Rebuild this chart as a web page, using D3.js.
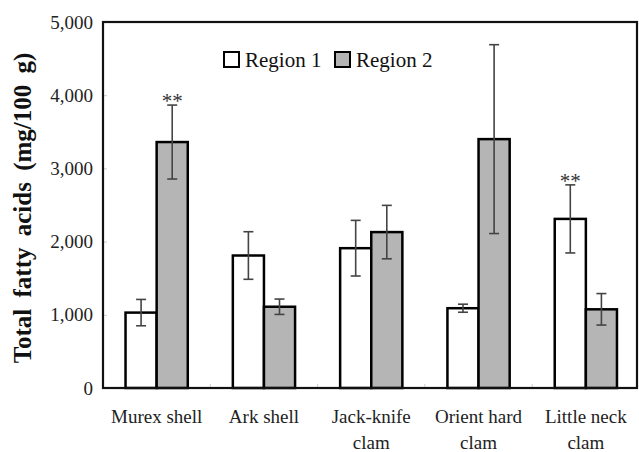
<!DOCTYPE html>
<html><head><meta charset="utf-8">
<script src="https://cdn.jsdelivr.net/npm/d3@7"></script>
<style>body{margin:0;background:#fff}</style>
</head><body>
<svg id="c" width="639" height="452"></svg>
<script>
const categories = [["Murex shell"], ["Ark shell"], ["Jack-knife", "clam"], ["Orient hard", "clam"], ["Little neck", "clam"]];
const seriesNames = ["Region 1", "Region 2"];
const region1 = [1030, 1810, 1910, 1090, 2310];
const region1Err = [180, 325, 380, 55, 465];
const region2 = [3360, 1110, 2130, 3400, 1075];
const region2Err = [505, 105, 365, 1290, 215];
const significance = [["Murex shell", 1, "**"], ["Little neck", 0, "**"]];
const yTicks = [0, 1000, 2000, 3000, 4000, 5000];

const svg = d3.select("#c");
const L = 103, R = 639.5, T = 22, B = 388;
const x0 = d3.scaleBand().domain(categories.map((d,i)=>i)).range([L, R]).paddingInner(0.42).paddingOuter(0.21);
const x1 = d3.scaleBand().domain([0,1]).range([0, x0.bandwidth()]);
const y = d3.scaleLinear().domain([0, 5000]).range([B, T]);
const font = "'Liberation Serif', 'Times New Roman', serif";
const fills = ["#ffffff", "#b5b5b5"];

// inner ticks (faint)
const yAxis = d3.axisRight(y).tickValues(yTicks).tickSize(4).tickFormat("");
svg.append("g").attr("transform", `translate(${L},0)`).call(yAxis)
  .call(g => g.select(".domain").remove())
  .call(g => g.selectAll("line").attr("stroke", "#ccc"));

// y tick labels
const yLab = d3.axisLeft(y).tickValues(yTicks).tickSize(0).tickPadding(10).tickFormat(d3.format(","));
svg.append("g").attr("transform", `translate(${L},0)`).call(yLab)
  .call(g => g.select(".domain").remove())
  .call(g => g.selectAll("text").attr("font-family", font).attr("font-size", 19).attr("fill", "#222"));

// category boundary ticks
const step = (R - L) / categories.length;
svg.append("g").selectAll("line").data(d3.range(1, categories.length)).join("line")
  .attr("x1", i => L + i*step).attr("x2", i => L + i*step)
  .attr("y1", B).attr("y2", B - 4).attr("stroke", "#ccc");

const series = [region1, region2];
const errs = [region1Err, region2Err];
series.forEach((vals, s) => {
  const g = svg.append("g");
  g.selectAll("rect").data(vals).join("rect")
    .attr("x", (d,i) => x0(i) + x1(s))
    .attr("y", d => y(d))
    .attr("width", x1.bandwidth())
    .attr("height", d => B - y(d))
    .attr("fill", fills[s]).attr("stroke", "#000").attr("stroke-width", 2.5);
});
series.forEach((vals, s) => {
  const g = svg.append("g").attr("stroke", "#444").attr("stroke-width", 1.6);
  vals.forEach((v, i) => {
    const cx = x0(i) + x1(s) + x1.bandwidth()/2;
    const e = errs[s][i];
    g.append("line").attr("x1", cx).attr("x2", cx).attr("y1", y(v+e)).attr("y2", y(v-e));
    g.append("line").attr("x1", cx-5).attr("x2", cx+5).attr("y1", y(v+e)).attr("y2", y(v+e));
    g.append("line").attr("x1", cx-5).attr("x2", cx+5).attr("y1", y(v-e)).attr("y2", y(v-e));
  });
});

// significance marks
significance.forEach(([cat, s, txt]) => {
  const i = categories.findIndex(c => c[0] === cat);
  const v = series[s][i] + errs[s][i];
  svg.append("text").attr("x", x0(i) + x1(s) + x1.bandwidth()/2).attr("y", y(v) + 3)
    .attr("text-anchor", "middle").attr("font-family", font).attr("font-size", 21).attr("fill", "#333").text(txt);
});

// plot frame
svg.append("rect").attr("x", L).attr("y", T).attr("width", 637 - L).attr("height", B - T)
  .attr("fill", "none").attr("stroke", "#111").attr("stroke-width", 2.2);

// category labels
categories.forEach((lines, i) => {
  const t = svg.append("text").attr("text-anchor", "middle").attr("font-family", font)
    .attr("font-size", 19).attr("fill", "#222");
  lines.forEach((ln, k) => t.append("tspan").attr("x", x0(i) + x0.bandwidth()/2).attr("y", 423 + k*26).text(ln));
});

// y axis title
svg.append("text").attr("transform", `translate(31,${(T+B)/2 + 3}) rotate(-90)`)
  .attr("text-anchor", "middle").attr("font-family", font).attr("font-weight", "bold")
  .attr("font-size", 25).attr("fill", "#111").attr("word-spacing", 5)
  .text("Total fatty acids (mg/100 g)");

// legend
const lg = svg.append("g");
const legX = [224, 335];
seriesNames.forEach((n, s) => {
  lg.append("rect").attr("x", legX[s]).attr("y", 52).attr("width", 15).attr("height", 15)
    .attr("fill", fills[s]).attr("stroke", "#000").attr("stroke-width", 2);
  lg.append("text").attr("x", legX[s] + 21).attr("y", 67).attr("font-family", font)
    .attr("font-size", 21).attr("fill", "#111").text(n);
});
</script>
</body></html>
